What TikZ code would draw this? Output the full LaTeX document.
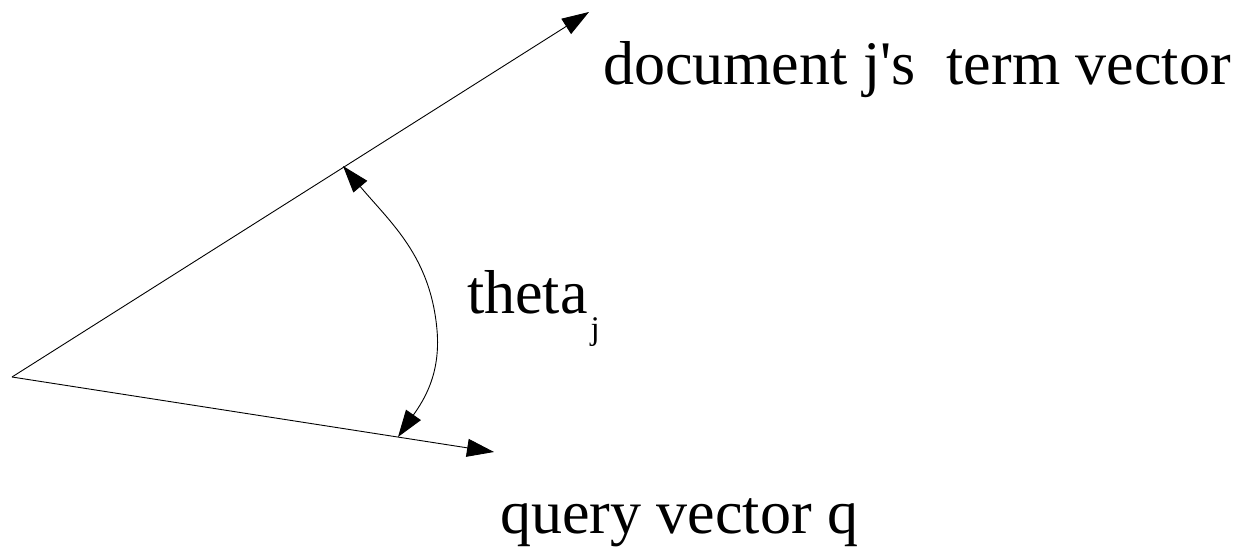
\documentclass[tikz,border=0pt]{standalone}
\usepackage{fontspec}
\setmainfont{Liberation Serif}[Ligatures=TeXOff]
\usetikzlibrary{arrows.meta}
\tikzset{
  vec/.style={line width=0.9pt, -{Triangle[length=27pt,width=18pt]}},
  anglearc/.style={line width=0.9pt, {Triangle[length=27pt,width=18pt]}-{Triangle[length=27pt,width=18pt]}},
  lbl/.style={anchor=base west, inner sep=0pt, font=\fontsize{62}{62}\selectfont}
}
\begin{document}
\begin{tikzpicture}[x=1pt,y=-1pt]
\useasboundingbox (0,0) rectangle (1243,548);
% origin and vector tips
\coordinate (O) at (12,377);
\coordinate (D) at (589,12);
\coordinate (Q) at (494,452);
% ends of the angle arc on both vectors
\coordinate (A) at (343,166);
\coordinate (B) at (398,437);
\coordinate (M) at (437,330);
\draw[vec] (O) -- (D);
\draw[vec] (O) -- (Q);
\draw[anglearc] (A) to[out=-50,in=95] (M) to[out=-85,in=55] (B);
\node[lbl] (doc) at (603,85) {document j's\ \ term vector};
\node[lbl] (qry) at (500,533) {query vector q};
\node[lbl] (theta) at (467,313) {theta\hspace{3pt}\raisebox{-26pt}{\fontsize{33}{33}\selectfont j}};
\end{tikzpicture}
\end{document}
